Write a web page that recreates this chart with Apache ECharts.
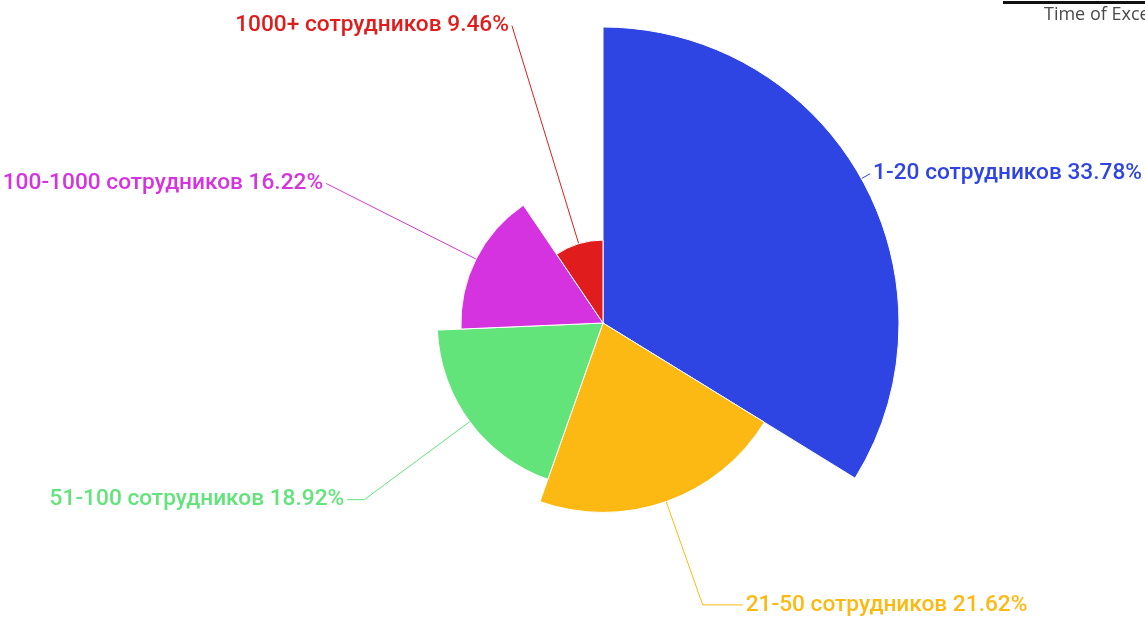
<!DOCTYPE html>
<html>
<head>
<meta charset="utf-8">
<script src="https://cdn.jsdelivr.net/npm/echarts@6/dist/echarts.min.js"></script>
<style>html,body{margin:0;padding:0;background:#fff;}#c{width:1145px;height:619px;}</style>
</head>
<body>
<div id="c"></div>
<script>
const categories = ['1-20 сотрудников', '21-50 сотрудников', '51-100 сотрудников', '100-1000 сотрудников', '1000+ сотрудников'];
const values = [33.78, 21.62, 18.92, 16.22, 9.46];
const colors = ['#2f45e3', '#fdb913', '#63e47b', '#d633e0', '#e01c1c'];
const lineLen = [10, 3, 1, 14, 15];
const lineLen2 = [0, 40, 17, 0, 0];

const chart = echarts.init(document.getElementById('c'));
chart.setOption({
  animation: false,
  graphic: [
    { type: 'rect', shape: { x: 1003, y: 1, width: 142, height: 3 }, style: { fill: '#111' } },
    { type: 'text', left: 1044, top: 6, style: { text: 'Time of Excel', fill: '#4a4a4a', font: '18px "Open Sans"' } }
  ],
  series: [{
    type: 'pie',
    roseType: 'radius',
    center: [603, 323],
    radius: [0, 296],
    startAngle: 90,
    clockwise: true,
    avoidLabelOverlap: false,
    itemStyle: { borderColor: '#fff', borderWidth: 1 },
    label: {
      show: true,
      position: 'outside',
      fontFamily: 'Roboto',
      fontSize: 22.7,
      fontWeight: 500,
      distanceToLabelLine: 3,
      formatter: p => p.name + ' ' + p.value.toFixed(2) + '%'
    },
    labelLine: { show: true, lineStyle: { width: 1 } },
    data: categories.map((n, i) => ({
      name: n,
      value: values[i],
      itemStyle: { color: colors[i] },
      label: { color: colors[i] },
      labelLine: { length: lineLen[i], length2: lineLen2[i] }
    }))
  }]
});
</script>
</body>
</html>
